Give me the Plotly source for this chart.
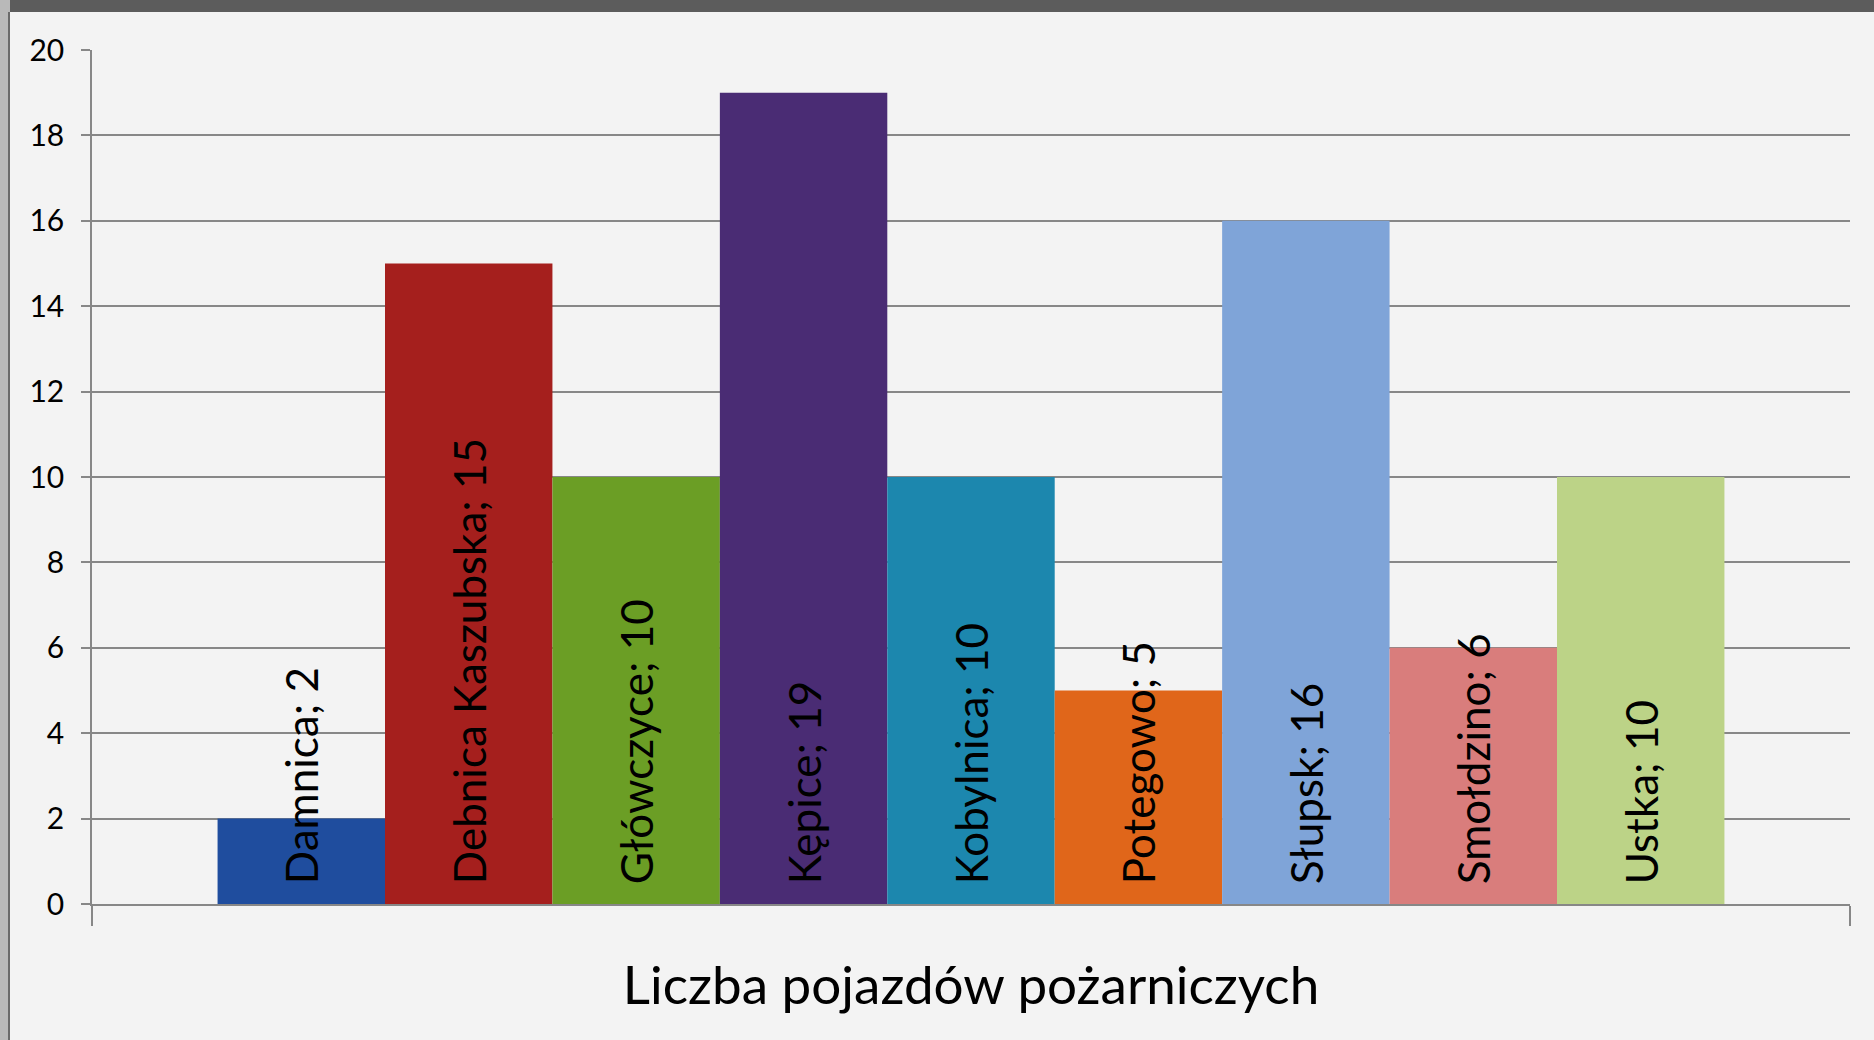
import plotly.graph_objects as go

# Category (Excel single category) and series
category = "Liczba pojazdów pożarniczych"
towns = ["Damnica", "Debnica Kaszubska", "Główczyce", "Kępice", "Kobylnica",
         "Potegowo", "Słupsk", "Smołdzino", "Ustka"]
vehicles = [2, 15, 10, 19, 10, 5, 16, 6, 10]
colors = ["#1f4d9e", "#a51f1d", "#6b9e25", "#4a2c74", "#1c87ae",
          "#e0661a", "#7fa4d8", "#d97d7c", "#bcd387"]
y_ticks = list(range(0, 21, 2))

FONT = "Lato"
GRID = "#878787"
BG = "#f3f3f3"

fig = go.Figure()
for town, value, color in zip(towns, vehicles, colors):
    fig.add_trace(go.Bar(
        name=town,
        x=[category],
        y=[value],
        marker=dict(color=color, line=dict(width=0)),
        # leading spaces lift the label off the baseline like Excel does
        text=[f"\u00a0\u2009{town}; {value}"],
        textposition="inside",
        insidetextanchor="start",
        textangle=-90,
        constraintext="none",
        cliponaxis=False,
        textfont=dict(family=FONT, size=44, color="black"),
    ))

fig.update_layout(
    width=1874, height=1040,
    margin=dict(l=92, r=24, t=50, b=136),
    paper_bgcolor=BG, plot_bgcolor=BG,
    barmode="group",
    bargap=1.5 / 10.5,  # Excel gap width 150% on 9 series
    bargroupgap=0,
    showlegend=False,
    font=dict(family=FONT, color="black"),
    xaxis=dict(
        showline=True, linecolor=GRID, linewidth=1.5,
        ticks="outside", tickson="boundaries", ticklen=20,
        tickcolor=GRID, tickwidth=1.5,
        tickfont=dict(size=53), ticklabelstandoff=35,
        showgrid=False,
    ),
    yaxis=dict(
        range=[0, 20], tickvals=y_ticks,
        showline=True, linecolor=GRID, linewidth=1.5,
        ticks="outside", ticklen=9, tickcolor=GRID, tickwidth=1.5,
        showgrid=True, gridcolor=GRID, gridwidth=1.5,
        zeroline=False,
        tickfont=dict(size=30), ticklabelstandoff=11,
    ),
    shapes=[
        # photo frame around the screenshot
        dict(type="rect", xref="paper", yref="paper", layer="above",
             x0=-0.06, x1=1.02, y0=1 + 38 / 854, y1=1.07,
             fillcolor="#5c5c5c", line=dict(width=0)),
        dict(type="rect", xref="paper", yref="paper", layer="above",
             x0=-0.06, x1=-82 / 1758, y0=-0.2, y1=1.07,
             fillcolor="#b9b9b9", line=dict(width=0)),
        dict(type="line", xref="paper", yref="paper", layer="above",
             x0=-83 / 1758, x1=-83 / 1758, y0=-0.2, y1=1 + 38 / 854,
             line=dict(color="#6a6a6a", width=2)),
    ],
)

fig.write_html(
    "out.html",
    config={"displayModeBar": False},
    post_script="document.body.style.margin = '0';",
)
